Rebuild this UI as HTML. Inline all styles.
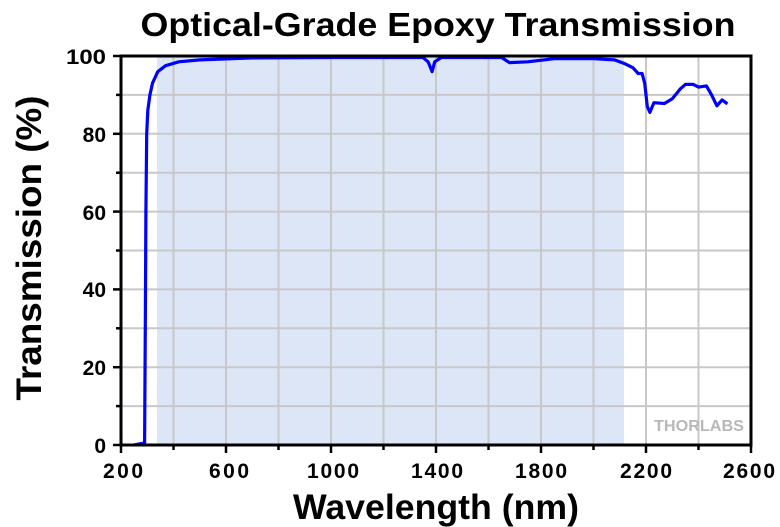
<!DOCTYPE html>
<html><head><style>body{margin:0;background:#fff}svg{display:block}text{font-family:"Liberation Sans",Arial,sans-serif;font-weight:bold}</style></head>
<body>
<svg width="780" height="527" xmlns="http://www.w3.org/2000/svg">
<rect x="157" y="56" width="467" height="389" fill="#dde6f6"/>
<g stroke="#c8c8c8" stroke-width="2">
<line x1="173.5" y1="56" x2="173.5" y2="445"/><line x1="226" y1="56" x2="226" y2="445"/><line x1="278.5" y1="56" x2="278.5" y2="445"/><line x1="331" y1="56" x2="331" y2="445"/><line x1="383.5" y1="56" x2="383.5" y2="445"/><line x1="436" y1="56" x2="436" y2="445"/><line x1="488.5" y1="56" x2="488.5" y2="445"/><line x1="541" y1="56" x2="541" y2="445"/><line x1="593.5" y1="56" x2="593.5" y2="445"/><line x1="646" y1="56" x2="646" y2="445"/><line x1="698.5" y1="56" x2="698.5" y2="445"/>
<line x1="121" y1="94.9" x2="751" y2="94.9"/><line x1="121" y1="133.8" x2="751" y2="133.8"/><line x1="121" y1="172.7" x2="751" y2="172.7"/><line x1="121" y1="211.6" x2="751" y2="211.6"/><line x1="121" y1="250.5" x2="751" y2="250.5"/><line x1="121" y1="289.4" x2="751" y2="289.4"/><line x1="121" y1="328.3" x2="751" y2="328.3"/><line x1="121" y1="367.2" x2="751" y2="367.2"/><line x1="121" y1="406.1" x2="751" y2="406.1"/>
</g>
<text x="744" y="431" font-size="16" fill="#b8b8b8" text-anchor="end" textLength="90" lengthAdjust="spacingAndGlyphs">THORLABS</text>
<polyline fill="none" stroke="#0000ff" stroke-width="3.2" stroke-linejoin="round" points="134.1,445 144.6,443 145.4,309 145.9,212 146.7,134 147.8,110.5 149.9,95 152.5,83.2 157.8,71.6 165.6,65.7 178.8,61.8 199.8,59.9 252.3,57.9 331,57.5 422.9,57.5 428.1,61.8 432.1,71.6 434.7,61.8 441.3,57.5 501.6,57.5 509.5,62.6 527.9,61.8 554.1,58.7 593.5,58.7 614.5,59.9 625,63.8 632.9,67.7 638.1,73.5 642.1,73.5 644.7,83.2 647.3,106.6 649.9,112.4 653.9,102.7 664.4,103.5 672.3,98.8 680.1,89.1 685.4,84.4 693.3,84.4 698.5,87.1 706.4,85.9 711.6,94.9 716.9,105.8 722.1,99.9 727.4,103.8"/>
<rect x="121" y="56" width="630" height="389" fill="none" stroke="#000" stroke-width="3"/>
<g stroke="#000" stroke-width="2.5">
<line x1="121" y1="445" x2="121" y2="453"/><line x1="173.5" y1="445" x2="173.5" y2="450"/><line x1="226" y1="445" x2="226" y2="453"/><line x1="278.5" y1="445" x2="278.5" y2="450"/><line x1="331" y1="445" x2="331" y2="453"/><line x1="383.5" y1="445" x2="383.5" y2="450"/><line x1="436" y1="445" x2="436" y2="453"/><line x1="488.5" y1="445" x2="488.5" y2="450"/><line x1="541" y1="445" x2="541" y2="453"/><line x1="593.5" y1="445" x2="593.5" y2="450"/><line x1="646" y1="445" x2="646" y2="453"/><line x1="698.5" y1="445" x2="698.5" y2="450"/><line x1="751" y1="445" x2="751" y2="453"/>
<line x1="113" y1="56" x2="121" y2="56"/><line x1="116" y1="94.9" x2="121" y2="94.9"/><line x1="113" y1="133.8" x2="121" y2="133.8"/><line x1="116" y1="172.7" x2="121" y2="172.7"/><line x1="113" y1="211.6" x2="121" y2="211.6"/><line x1="116" y1="250.5" x2="121" y2="250.5"/><line x1="113" y1="289.4" x2="121" y2="289.4"/><line x1="116" y1="328.3" x2="121" y2="328.3"/><line x1="113" y1="367.2" x2="121" y2="367.2"/><line x1="116" y1="406.1" x2="121" y2="406.1"/>
<line x1="113" y1="445" x2="121" y2="445"/>
</g>
<g font-size="21" text-anchor="end">
<text x="106" y="64" textLength="40" lengthAdjust="spacingAndGlyphs">100</text><text x="106" y="142">80</text><text x="106" y="220">60</text><text x="106" y="297">40</text><text x="106" y="375">20</text><text x="106" y="453">0</text>
</g>
<g font-size="21" text-anchor="middle" lengthAdjust="spacingAndGlyphs">
<text x="123" y="478" textLength="40">200</text><text x="229" y="478" textLength="40">600</text><text x="333" y="478" textLength="52">1000</text><text x="437" y="478" textLength="52">1400</text><text x="541" y="478" textLength="52">1800</text><text x="646" y="478" textLength="52">2200</text><text x="749" y="478" textLength="52">2600</text>
</g>
<text x="438" y="36" font-size="33" text-anchor="middle" textLength="595" lengthAdjust="spacingAndGlyphs">Optical-Grade Epoxy Transmission</text>
<text x="436" y="519" font-size="35" text-anchor="middle" textLength="286" lengthAdjust="spacingAndGlyphs">Wavelength (nm)</text>
<text transform="translate(41,248) rotate(-90)" font-size="35" text-anchor="middle" textLength="305" lengthAdjust="spacingAndGlyphs">Transmission (%)</text>
</svg>
</body></html>
